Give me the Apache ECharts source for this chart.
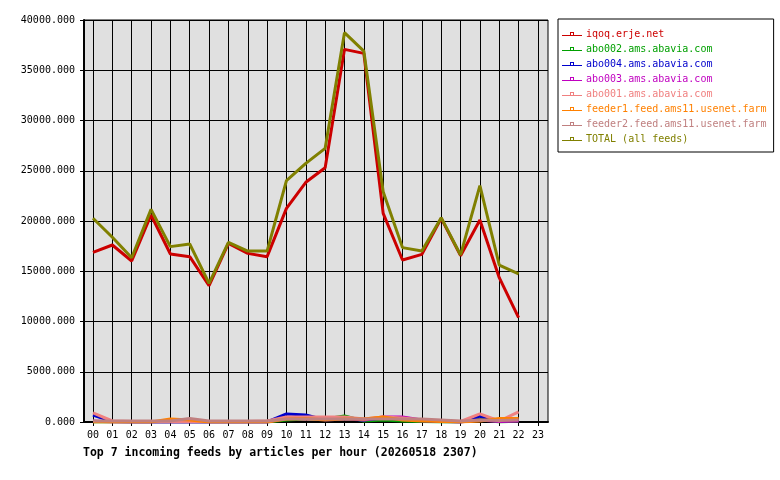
<!DOCTYPE html>
<html>
<head>
<meta charset="utf-8">
<script src="https://cdn.jsdelivr.net/npm/echarts@6/dist/echarts.min.js"></script>
<style>
html, body { margin: 0; padding: 0; background: #fff; }
#main { width: 780px; height: 480px; }
</style>
</head>
<body>
<div id="main"></div>
<script>
// hours 00..23, data up to 22
var hours = [0,1,2,3,4,5,6,7,8,9,10,11,12,13,14,15,16,17,18,19,20,21,22,23];
var hourLabels = ['00','01','02','03','04','05','06','07','08','09','10','11','12','13','14','15','16','17','18','19','20','21','22','23'];
var yTicks = [0,5000,10000,15000,20000,25000,30000,35000,40000];

var iqoq    = [16880,17610,16020,20600,16720,16450,13560,17780,16780,16450,21260,23850,25300,37080,36680,20760,16120,16680,20260,16550,20100,14360,10380];
var abo002  = [0,0,0,0,0,0,0,0,0,0,200,300,300,600,100,200,100,50,0,0,300,0,100];
var abo004  = [700,50,0,0,0,0,0,0,0,0,800,700,200,300,200,400,300,100,50,0,600,100,200];
var abo003  = [100,0,0,0,0,0,0,0,0,0,400,300,400,400,200,500,500,200,100,0,200,50,100];
var abo001  = [900,100,50,50,50,50,50,50,50,100,500,500,500,500,300,500,400,200,100,50,800,100,1000];
var feeder1 = [0,0,0,0,300,200,0,0,0,0,300,350,200,300,300,500,200,100,50,0,100,350,350];
var feeder2 = [100,100,100,100,100,350,100,100,100,100,300,300,300,300,300,300,300,300,200,100,200,150,200];
var total   = [20270,18380,16350,21160,17450,17710,13800,17880,17010,17010,24010,25740,27230,38740,36910,22920,17350,17010,20330,16620,23520,15620,14730];

var names  = ['iqoq.erje.net','abo002.ams.abavia.com','abo004.ams.abavia.com','abo003.ams.abavia.com','abo001.ams.abavia.com','feeder1.feed.ams11.usenet.farm','feeder2.feed.ams11.usenet.farm','TOTAL (all feeds)'];
var values = [iqoq, abo002, abo004, abo003, abo001, feeder1, feeder2, total];
var colors = ['#cc0000','#00a000','#0000cc','#c000c0','#f08080','#ff8000','#c08080','#808000'];

var mono = 'DejaVu Sans Mono';
var legendIcon = 'path://M0,5L20,5L20,6L0,6Z M8,2L12,2L12,3L8,3Z M8,2L9,2L9,6L8,6Z M11,2L12,2L12,6L11,6Z';

function pairs(arr) {
    var res = [];
    for (var i = 0; i < arr.length; i++) res.push([hours[i], arr[i]]);
    return res;
}

var series = [];
var legendData = [];
for (var i = 0; i < names.length; i++) {
    series.push({
        name: names[i],
        type: 'line',
        data: pairs(values[i]),
        color: colors[i],
        symbol: 'emptyRect',
        showSymbol: false,
        lineStyle: { width: 3, color: colors[i] },
        emphasis: { disabled: true }
    });
    legendData.push({ name: names[i], icon: legendIcon, textStyle: { color: colors[i] } });
}

var chart = echarts.init(document.getElementById('main'));
chart.setOption({
    animation: false,
    backgroundColor: '#fff',
    title: {
        text: 'Top 7 incoming feeds by articles per hour (20260518 2307)',
        left: 78,
        top: 442,
        textStyle: { fontFamily: mono, fontSize: 11.5, fontWeight: 'bold', color: '#000' }
    },
    grid: {
        left: 84, right: 232, top: 20, bottom: 58,
        show: true, backgroundColor: '#e0e0e0', borderColor: '#000', borderWidth: 1
    },
    legend: {
        orient: 'vertical',
        left: 558, top: 19,
        padding: [10, 7, 8, 4],
        itemWidth: 20, itemHeight: 4, itemGap: 5,
        borderColor: '#000', borderWidth: 1,
        backgroundColor: '#fff',
        data: legendData,
        textStyle: { fontFamily: mono, fontSize: 10, padding: [0, 0, 0, -1] },
        selectedMode: false
    },
    xAxis: {
        type: 'value',
        min: -0.465, max: 23.52,
        axisLine: { show: true, onZero: false, lineStyle: { color: '#000', width: 2 } },
        axisTick: { show: true, length: 4, customValues: hours, lineStyle: { color: '#000' } },
        axisLabel: {
            customValues: hours, margin: 8,
            formatter: function (v) { return hourLabels[Math.round(v)]; },
            fontFamily: mono, fontSize: 10, color: '#000'
        },
        splitLine: { show: true, lineStyle: { color: '#000', width: 1 } }
    },
    yAxis: {
        type: 'value',
        min: 0, max: 40000, interval: 5000,
        axisLine: { show: true, onZero: false, lineStyle: { color: '#000', width: 2 } },
        axisTick: { show: true, length: 4, lineStyle: { color: '#000' } },
        axisLabel: {
            margin: 9,
            formatter: function (v) { return v.toFixed(3); },
            fontFamily: mono, fontSize: 10, color: '#000'
        },
        splitLine: { show: true, lineStyle: { color: '#000', width: 1 } }
    },
    series: series
});
</script>
</body>
</html>
